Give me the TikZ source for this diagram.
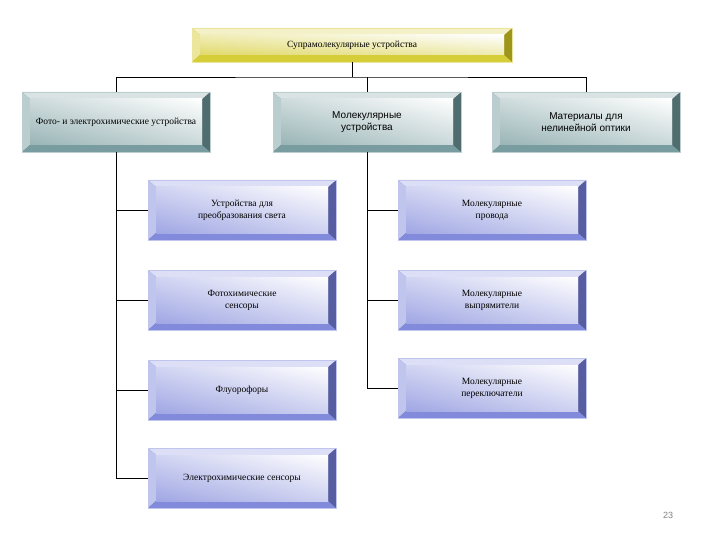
\documentclass[tikz,border=0pt]{standalone}
\usepackage{fontspec}
\setmainfont{Liberation Serif}
\setsansfont{Liberation Sans}
\usetikzlibrary{calc}
\definecolor{tealbox}{RGB}{105,145,148}
\definecolor{bluebox}{RGB}{115,125,215}
\definecolor{goldbox}{RGB}{210,200,35}
\tikzset{
  bevel/.style={draw=#1!45!white, line width=0.4pt, align=center,
    minimum width=188pt, minimum height=60pt, inner sep=2pt,
    font=\fontsize{9.5}{12}\selectfont,
    path picture={
      \path (path picture bounding box.south west) coordinate (pa)
            (path picture bounding box.north east) coordinate (pb);
      \fill[#1!75!black] (pa) rectangle (pb);
      \fill[#1!25!white] (pa|-pb) -- (pb) -- ++(-8pt,-7pt) -- ($(pa|-pb)+(8pt,-7pt)$) -- cycle;
      \fill[#1!45!white] (pa) -- (pa|-pb) -- ++(8pt,-7pt) -- ($(pa)+(8pt,7pt)$) -- cycle;
      \fill[#1!90!white] (pa) -- (pb|-pa) -- ++(-8pt,7pt) -- ($(pa)+(8pt,7pt)$) -- cycle;
      \shade[left color=#1!65!white, right color=white]
        ($(pa)+(8pt,7pt)$) rectangle ($(pb)+(-8pt,-7pt)$);
      \shade[bottom color=#1!70!white, top color=white, opacity=0.5]
        ($(pa)+(8pt,7pt)$) rectangle ($(pb)+(-8pt,-7pt)$);
    }},
  sansbox/.style={font=\sffamily\fontsize{10}{12}\selectfont},
  link/.style={draw=black, line width=0.7pt}
}
\begin{document}
\begin{tikzpicture}[x=1pt,y=-1pt]
  \useasboundingbox[fill=white] (0,0) rectangle (720,540);
  \node[bevel=goldbox, minimum width=320pt, minimum height=34pt] (top) at (352,45) {Супрамолекулярные устройства};
  \node[bevel=tealbox] (foto) at (116,122) {Фото- и электрохимические устройства};
  \node[bevel=tealbox, sansbox] (mol) at (367,122) {Молекулярные\\устройства};
  \node[bevel=tealbox, sansbox] (mat) at (586,122) {Материалы для\\нелинейной оптики};
  \node[bevel=bluebox] (svet) at (242,210) {Устройства для\\преобразования света};
  \node[bevel=bluebox] (fsens) at (242,300) {Фотохимические\\сенсоры};
  \node[bevel=bluebox] (fluo) at (242,390) {Флуорофоры};
  \node[bevel=bluebox] (esens) at (242,478) {Электрохимические сенсоры};
  \node[bevel=bluebox] (prov) at (492,210) {Молекулярные\\провода};
  \node[bevel=bluebox] (vypr) at (492,300) {Молекулярные\\выпрямители};
  \node[bevel=bluebox] (pere) at (492,388) {Молекулярные\\переключатели};
  \node[font=\sffamily\fontsize{9}{10}\selectfont, text=black!50] (page) at (668,515) {23};
  \coordinate (bus) at (352,77);
  \draw[link] (top.south) -- (bus);
  \draw[link] (foto.north) |- (bus) -| (mat.north);
  \draw[link] (mol.north) -- (mol.north |- bus);
  \draw[link] (foto.south) |- (esens.west);
  \foreach \n in {svet,fsens,fluo}
    \draw[link] (\n.west) -- (\n.west -| foto.south);
  \draw[link] (mol.south) |- (pere.west);
  \foreach \n in {prov,vypr}
    \draw[link] (\n.west) -- (\n.west -| mol.south);
\end{tikzpicture}
\end{document}
